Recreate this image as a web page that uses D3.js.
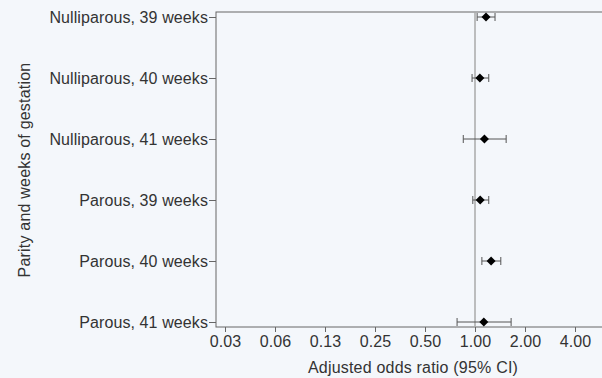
<!DOCTYPE html>
<meta charset="utf-8">
<style>
body { margin: 0; background: #f4f7fb; }
svg { display: block; }
.axis text { font: 16px "Liberation Sans", Arial, sans-serif; fill: #333; letter-spacing: 0.1px; }
.axis path, .axis line { stroke: #666; }
.title { font: 16px "Liberation Sans", Arial, sans-serif; fill: #333; letter-spacing: 0.2px; }
</style>
<svg width="602" height="378"></svg>
<script src="https://d3js.org/d3.v7.min.js"></script>
<script>
// groups, odds ratios and 95% CI
var groups = ["Nulliparous, 39 weeks", "Nulliparous, 40 weeks", "Nulliparous, 41 weeks",
              "Parous, 39 weeks", "Parous, 40 weeks", "Parous, 41 weeks"];
var oddsRatio = [1.165, 1.07, 1.14, 1.075, 1.25, 1.13];
var ciLower   = [1.03, 0.96, 0.85, 0.97, 1.10, 0.78];
var ciUpper   = [1.32, 1.21, 1.54, 1.21, 1.43, 1.65];
var xTicks = [0.03125, 0.0625, 0.125, 0.25, 0.5, 1, 2, 4];
var xTickLabels = ["0.03", "0.06", "0.13", "0.25", "0.50", "1.00", "2.00", "4.00"];

var svg = d3.select("svg"),
    margin = {top: 12, right: -8, bottom: 51, left: 216},
    width = +svg.attr("width") - margin.left - margin.right,
    height = +svg.attr("height") - margin.top - margin.bottom,
    g = svg.append("g").attr("transform", "translate(" + margin.left + "," + margin.top + ")");

var x = d3.scaleLog().base(2)
    .domain([Math.pow(2, -5.18), Math.pow(2, 2.7)])
    .range([0, width]);

var y = d3.scalePoint()
    .domain(groups)
    .range([5, height - 5]);

var data = groups.map(function(d, i) {
  return {group: d, or: oddsRatio[i], lo: ciLower[i], hi: ciUpper[i]};
});

// frame
g.append("rect")
    .attr("width", width)
    .attr("height", height)
    .attr("fill", "none")
    .attr("stroke", "#666");

g.append("g")
    .attr("class", "axis")
    .attr("transform", "translate(0," + height + ")")
    .call(d3.axisBottom(x).tickValues(xTicks)
      .tickFormat(function(d, i) { return xTickLabels[i]; })
      .tickSizeOuter(0).tickSize(5).tickPadding(4))
    .call(function(a) { a.select(".domain").remove(); });

g.append("g")
    .attr("class", "axis")
    .call(d3.axisLeft(y).tickSize(7).tickPadding(1).tickSizeOuter(0))
    .call(function(a) { a.select(".domain").remove(); });

// reference line at OR = 1
g.append("line")
    .attr("x1", x(1)).attr("x2", x(1))
    .attr("y1", 0).attr("y2", height)
    .attr("stroke", "#aaa")
    .attr("stroke-width", 1.5);

var row = g.selectAll(".row")
    .data(data)
  .enter().append("g")
    .attr("class", "row")
    .attr("transform", function(d) { return "translate(0," + y(d.group) + ")"; });

row.append("line")
    .attr("x1", function(d) { return x(d.lo); })
    .attr("x2", function(d) { return x(d.hi); })
    .attr("stroke", "#555");

row.selectAll(".cap")
    .data(function(d) { return [d.lo, d.hi]; })
  .enter().append("line")
    .attr("x1", function(d) { return x(d); })
    .attr("x2", function(d) { return x(d); })
    .attr("y1", -4).attr("y2", 4)
    .attr("stroke", "#555");

// diamond marker (square turned 45 degrees)
row.append("path")
    .attr("d", "M0,-4.5L4.5,0L0,4.5L-4.5,0Z")
    .attr("transform", function(d) { return "translate(" + x(d.or) + ",0)"; })
    .attr("fill", "#000");

svg.append("text")
    .attr("class", "title")
    .attr("x", 413)
    .attr("y", 373)
    .attr("text-anchor", "middle")
    .text("Adjusted odds ratio (95% CI)");

svg.append("text")
    .attr("class", "title")
    .attr("transform", "translate(30,170) rotate(-90)")
    .attr("text-anchor", "middle")
    .text("Parity and weeks of gestation");
</script>
